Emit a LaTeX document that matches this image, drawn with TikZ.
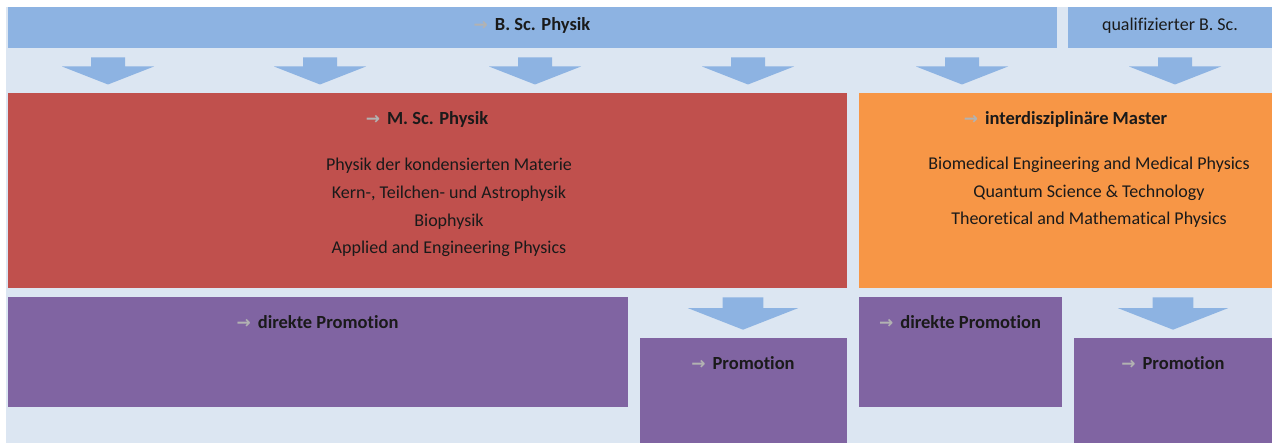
\documentclass[tikz,border=0pt]{standalone}
\usepackage{fontspec}
\setmainfont{Carlito}[Ligatures=NoCommon]
\newfontfamily\symfont{DejaVu Sans}
\usetikzlibrary{calc,positioning}
\definecolor{bgblue}{HTML}{DCE6F2}
\definecolor{barblue}{HTML}{8DB3E2}
\definecolor{mscred}{HTML}{C0504D}
\definecolor{intorange}{HTML}{F79646}
\definecolor{promopurple}{HTML}{8064A2}
\definecolor{textdark}{HTML}{1A1A1A}
\newcommand{\garrow}{{\symfont\color{black!30}\fontsize{17}{17}\selectfont →}\hspace{7pt}}
\tikzset{
  every picture/.style={
    line width=1pt
  },
  box/.style={rectangle, inner sep=0pt, anchor=north west},
  heading/.style={font=\fontsize{18.5}{20}\selectfont\bfseries, text=textdark, anchor=base, inner sep=0pt},
  item/.style={font=\fontsize{18}{20}\selectfont, text=textdark, anchor=base, inner sep=0pt},
  downarrow/.pic={
    \fill[barblue] (-17,-13.5) -- (17,-13.5) -- (17,-4.5) -- (46,-4.5)
      -- (0,13.5) -- (-46,-4.5) -- (-17,-4.5) -- cycle;
  }
}

\begin{document}
\begin{tikzpicture}[x=1pt, y=-1pt]
  \useasboundingbox (0,0) rectangle (1272,443);
  \fill[bgblue] (6,7) rectangle (1272,443);

  % Bachelor
  \node[box, fill=barblue, minimum width=1049pt, minimum height=41pt] (bsc) at (7,7) {};
  \node[box, fill=barblue, minimum width=205pt, minimum height=41pt] (quali) at (1067,7) {};
  \node[heading] (bsctitle) at (bsc.center |- 0,31) {\garrow B. Sc. Physik};
  \node[item] (qualititle) at (quali.center |- 0,31) {qualifizierter B. Sc.};

  % Master
  \node[box, fill=mscred, minimum width=839pt, minimum height=195pt] (msc) at (7,93) {};
  \node[box, fill=intorange, minimum width=414pt, minimum height=195pt] (inter) at (858,93) {};
  \node[heading] (msctitle) at (msc.center |- 0,125) {\garrow M. Sc. Physik};
  \node[heading] (intertitle) at (inter.center |- 0,125) {\garrow interdisziplinäre Master};
  \foreach \t [count=\i from 0] in {Physik der kondensierten Materie, {Kern-, Teilchen- und Astrophysik}, Biophysik, Applied and Engineering Physics}
    \node[item] (mscitem\i) at (449,{171+27.6*\i}) {\t};
  \foreach \t [count=\i from 0] in {Biomedical Engineering and Medical Physics, Quantum Science \& Technology, Theoretical and Mathematical Physics}
    \node[item] (interitem\i) at (1089,{170+27.4*\i}) {\t};

  % Promotion
  \node[box, fill=promopurple, minimum width=620pt, minimum height=110pt] (dirl) at (7,297) {};
  \node[box, fill=promopurple, minimum width=207pt, minimum height=105pt] (proml) at (639,338) {};
  \node[box, fill=promopurple, minimum width=203pt, minimum height=110pt] (dirr) at (858,297) {};
  \node[box, fill=promopurple, minimum width=199pt, minimum height=105pt] (promr) at (1073,338) {};
  \node[heading] (dirltitle) at (dirl.center |- 0,329) {\garrow direkte Promotion};
  \node[heading] (dirrtitle) at (dirr.center |- 0,329) {\garrow direkte Promotion};
  \node[heading] (promltitle) at (proml.center |- 0,370) {\garrow Promotion};
  \node[heading] (promrtitle) at (promr.center |- 0,370) {\garrow Promotion};

  % block arrows
  \foreach \x/\src/\dst in {108/bsc/msc, 320/bsc/msc, 535/bsc/msc, 748/bsc/msc, 962/bsc/inter, 1175/quali/inter}
    \pic at ($(\src.south -| \x,0)!.5!(\dst.north -| \x,0)$) {downarrow};
  \pic[scale=1.2] at ($(msc.south -| proml.north)!.5!(proml.north)$) {downarrow};
  \pic[scale=1.2] at ($(inter.south -| promr.north)!.5!(promr.north)$) {downarrow};
\end{tikzpicture}
\end{document}
